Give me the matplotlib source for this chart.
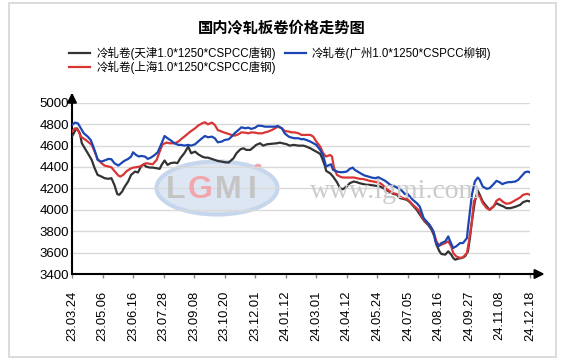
import matplotlib.pyplot as plt
from matplotlib.patches import Rectangle, Ellipse, Circle
import numpy as np

plt.rcParams['font.family'] = ['Liberation Sans', 'Noto Sans CJK SC', 'DejaVu Sans']

# ---- data (x = trading-day index, one label every 31 days) ----
date_labels = ['23.03.24', '23.05.06', '23.06.16', '23.07.28', '23.09.08', '23.10.20',
               '23.12.01', '24.01.12', '24.03.01', '24.04.12', '24.05.24', '24.07.05',
               '24.08.16', '24.09.27', '24.11.08', '24.12.18']
tick_step = 31

# 冷轧卷(天津) - black
tj_x = [0, 3, 5, 8, 10, 13, 16, 20, 23, 26, 30, 33, 37, 40, 43, 46, 48, 51, 53, 57,
        60, 64, 67, 70, 73, 75, 79, 82, 86, 89, 91, 94, 97, 100, 104, 107, 110, 114, 118, 121,
        125, 128, 132, 135, 138, 142, 145, 148, 152, 155, 159, 164, 167, 171, 174, 177, 181, 184, 187, 191,
        194, 198, 201, 204, 208, 211, 214, 218, 221, 225, 230, 235, 238, 242, 245, 248, 252, 254, 257, 258,
        262, 265, 269, 272, 275, 279, 282, 286, 289, 292, 296, 299, 302, 306, 309, 313, 316, 319, 323, 326,
        330, 333, 336, 340, 343, 346, 350, 355, 358, 362, 365, 368, 370, 373, 375, 379, 382, 385, 387, 389,
        392, 396, 399, 402, 404, 406, 409, 412, 414, 417, 421, 424, 428, 431, 434, 438, 441, 445, 448, 451,
        455, 458, 462, 465]
tj_y = [4683, 4736, 4761, 4714, 4621, 4574, 4528, 4466, 4388, 4326, 4310, 4295, 4289, 4295, 4233, 4146, 4140, 4171, 4208, 4264,
        4326, 4357, 4348, 4404, 4425, 4404, 4394, 4394, 4388, 4382, 4419, 4460, 4419, 4435, 4441, 4435, 4481, 4528, 4590, 4528,
        4543, 4519, 4497, 4487, 4487, 4475, 4466, 4456, 4450, 4444, 4441, 4481, 4528, 4565, 4574, 4559, 4559, 4581, 4606, 4621,
        4599, 4612, 4615, 4618, 4621, 4627, 4621, 4612, 4599, 4606, 4599, 4599, 4590, 4574, 4559, 4543, 4522, 4481, 4404, 4363,
        4341, 4310, 4258, 4202, 4192, 4217, 4248, 4264, 4258, 4248, 4239, 4233, 4233, 4227, 4223, 4217, 4202, 4186, 4164, 4149,
        4140, 4109, 4102, 4093, 4071, 4040, 4000, 3928, 3891, 3854, 3814, 3751, 3674, 3612, 3587, 3581, 3612, 3581, 3550, 3534,
        3543, 3550, 3565, 3612, 3736, 3891, 4078, 4180, 4140, 4078, 4031, 4000, 4031, 4062, 4046, 4031, 4015, 4015, 4022, 4031,
        4046, 4071, 4084, 4078]

# 冷轧卷(广州) - blue
gz_x = [0, 3, 6, 9, 12, 16, 19, 21, 24, 26, 30, 33, 37, 40, 43, 47, 50, 53, 57, 60,
        62, 65, 68, 70, 74, 77, 80, 84, 87, 91, 94, 97, 101, 104, 108, 111, 114, 118, 121, 125,
        128, 132, 135, 138, 142, 145, 148, 152, 155, 159, 162, 165, 169, 172, 176, 179, 182, 186, 189, 193,
        196, 199, 203, 206, 209, 213, 216, 220, 223, 226, 230, 233, 235, 238, 242, 245, 248, 252, 255, 258,
        260, 263, 265, 269, 272, 275, 279, 282, 285, 287, 291, 294, 297, 301, 304, 308, 311, 314, 318, 321,
        324, 328, 331, 335, 338, 340, 343, 346, 350, 353, 357, 360, 363, 367, 369, 372, 375, 379, 382, 384,
        387, 390, 394, 397, 401, 402, 404, 406, 409, 412, 414, 417, 421, 424, 428, 431, 434, 437, 439, 443,
        446, 450, 453, 456, 460, 463, 465]
gz_y = [4792, 4814, 4807, 4761, 4714, 4683, 4652, 4606, 4528, 4466, 4450, 4460, 4475, 4472, 4435, 4413, 4435, 4456, 4475, 4497,
        4537, 4512, 4497, 4503, 4497, 4475, 4487, 4512, 4537, 4621, 4689, 4668, 4643, 4621, 4606, 4606, 4599, 4606, 4599, 4612,
        4637, 4668, 4689, 4677, 4683, 4668, 4630, 4637, 4652, 4658, 4683, 4714, 4745, 4770, 4761, 4767, 4755, 4767, 4786, 4783,
        4776, 4776, 4776, 4776, 4783, 4761, 4714, 4683, 4674, 4668, 4668, 4658, 4661, 4652, 4637, 4621, 4606, 4559, 4506, 4404,
        4413, 4425, 4373, 4357, 4351, 4351, 4357, 4382, 4394, 4373, 4351, 4335, 4320, 4310, 4301, 4295, 4304, 4289, 4270, 4248,
        4227, 4217, 4202, 4177, 4146, 4155, 4124, 4093, 4062, 4031, 3922, 3891, 3860, 3798, 3705, 3658, 3689, 3705, 3751, 3705,
        3643, 3658, 3689, 3689, 3736, 3829, 3984, 4140, 4264, 4301, 4279, 4217, 4196, 4202, 4239, 4270, 4258, 4239, 4248, 4258,
        4258, 4264, 4279, 4310, 4351, 4357, 4348]

# 冷轧卷(上海) - red
sh_x = [0, 3, 6, 9, 13, 16, 20, 23, 26, 30, 33, 37, 40, 43, 47, 49, 52, 55, 59, 62,
        65, 69, 72, 75, 79, 82, 86, 89, 92, 96, 99, 104, 108, 111, 114, 118, 121, 125, 128, 132,
        135, 138, 142, 145, 148, 152, 155, 159, 162, 165, 169, 172, 176, 179, 182, 186, 189, 193, 196, 199,
        203, 206, 209, 213, 216, 220, 223, 226, 230, 233, 235, 238, 242, 245, 248, 252, 255, 258, 262, 264,
        266, 269, 272, 275, 279, 282, 286, 289, 292, 296, 299, 302, 306, 309, 313, 316, 319, 323, 326, 330,
        333, 336, 340, 343, 346, 350, 353, 355, 358, 362, 365, 368, 370, 373, 375, 379, 382, 385, 387, 390,
        394, 397, 401, 403, 406, 408, 412, 414, 417, 421, 424, 428, 431, 434, 438, 441, 445, 448, 451, 455,
        458, 462, 465]
sh_y = [4730, 4761, 4745, 4683, 4658, 4637, 4606, 4543, 4472, 4435, 4413, 4404, 4397, 4363, 4320, 4310, 4326, 4357, 4382, 4394,
        4397, 4404, 4419, 4435, 4429, 4425, 4466, 4543, 4612, 4627, 4621, 4621, 4637, 4661, 4683, 4714, 4736, 4761, 4786, 4807,
        4817, 4798, 4814, 4792, 4745, 4730, 4720, 4708, 4699, 4692, 4705, 4723, 4720, 4714, 4723, 4720, 4714, 4714, 4723, 4730,
        4745, 4761, 4776, 4761, 4736, 4730, 4723, 4723, 4714, 4699, 4699, 4699, 4699, 4683, 4637, 4590, 4528, 4497, 4512, 4497,
        4390, 4326, 4310, 4301, 4301, 4301, 4301, 4295, 4289, 4286, 4279, 4270, 4264, 4258, 4248, 4227, 4196, 4171, 4155, 4146,
        4124, 4109, 4102, 4078, 4046, 4015, 3984, 3938, 3897, 3866, 3829, 3767, 3705, 3664, 3674, 3689, 3705, 3658, 3596, 3565,
        3550, 3556, 3596, 3705, 3891, 4078, 4140, 4124, 4062, 4015, 4000, 4031, 4084, 4102, 4071, 4056, 4062, 4078, 4093, 4115,
        4140, 4149, 4140]

series_names = ['冷轧卷(天津1.0*1250*CSPCC唐钢)', '冷轧卷(上海1.0*1250*CSPCC唐钢)',
                '冷轧卷(广州1.0*1250*CSPCC柳钢)']
series_colors = ['#333333', '#d93535', '#1c46b4']

# ---- figure ----
W, H = 563, 362
fig = plt.figure(figsize=(W / 100, H / 100), dpi=100, facecolor='white')

def fx(px):
    return px / W

def fy(py):
    return 1 - py / H

# outer frame
fig.patches.append(Rectangle((fx(9), fy(357)), fx(556 - 9), (357 - 3) / H,
                             transform=fig.transFigure, fill=False, ec='#d6d6d6', lw=1.2))

fig.text(fx(282), fy(27), '国内冷轧板卷价格走势图', ha='center', va='center',
         fontsize=11, fontweight='bold', family=['Noto Sans CJK SC'])

ax = fig.add_axes([fx(72), fy(274), fx(530 - 72), (274 - 102.7) / H])
ax.set_facecolor('none')

# watermark
ax.add_patch(Ellipse((fx(217), fy(188)), fx(121), 53 / H, transform=fig.transFigure,
                     fc='#dde7f4', ec='#c6d7ed', lw=3, zorder=0.2))
for ch, px, col in [('L', 176, '#c4c4c4'), ('G', 200, '#f2a7ae'), ('M', 228, '#c4c4c4'), ('I', 252, '#c4c4c4')]:
    fig.text(fx(px), fy(190), ch, ha='center', va='center', fontsize=23, fontweight='bold',
             color=col, family=['Liberation Sans'], zorder=0.3)
ax.add_patch(Circle((fx(258), fy(166)), 3.5 / W, transform=fig.transFigure, fc='#f2a7ae',
                    ec='none', zorder=0.3))
fig.text(fx(396), fy(192), 'www.lgmi.com', ha='center', va='center', fontsize=20,
         color='#cbcbcb', family=['Liberation Serif'], zorder=0.3)

lines = []
for xs, ys, col in [(tj_x, tj_y, series_colors[0]), (sh_x, sh_y, series_colors[1]),
                    (gz_x, gz_y, series_colors[2])]:
    ln, = ax.plot(xs, ys, color=col, lw=1.6, zorder=3, solid_joinstyle='round')
    lines.append(ln)

ax.set_xlim(0, 465)
ax.set_ylim(3400, 5000)
ax.set_yticks(np.arange(3400, 5001, 200))
ax.yaxis.grid(True, color='#d9d9d9', lw=1)
ax.set_axisbelow(True)
ax.set_xticks(np.arange(len(date_labels)) * tick_step)
ax.set_xticklabels(date_labels, rotation=90, fontsize=9.3)
ax.tick_params(axis='x', length=3, width=1, pad=9, color='#888888')
ax.tick_params(axis='y', length=0, pad=2, labelsize=9.5)
for s in ['top', 'right']:
    ax.spines[s].set_visible(False)
for s in ['left', 'bottom']:
    ax.spines[s].set_linewidth(1.5)
    ax.spines[s].set_color('black')

# axis arrows
ax.annotate('', xy=(1.038, 0), xytext=(0.99, 0), xycoords='axes fraction',
            arrowprops=dict(arrowstyle='-|>', color='black', lw=1.5, mutation_scale=14), annotation_clip=False)
ax.annotate('', xy=(0, 1.075), xytext=(0, 0.99), xycoords='axes fraction',
            arrowprops=dict(arrowstyle='-|>', color='black', lw=1.5, mutation_scale=14), annotation_clip=False)

fig.legend(lines, series_names, loc='upper left', bbox_to_anchor=(fx(69), fy(47)),
           ncol=2, frameon=False, fontsize=8.3, handlelength=1.85, handletextpad=0.5,
           columnspacing=0.8, labelspacing=0.05, borderpad=0, borderaxespad=0)

fig.savefig('out.png', dpi=100, facecolor='white')
